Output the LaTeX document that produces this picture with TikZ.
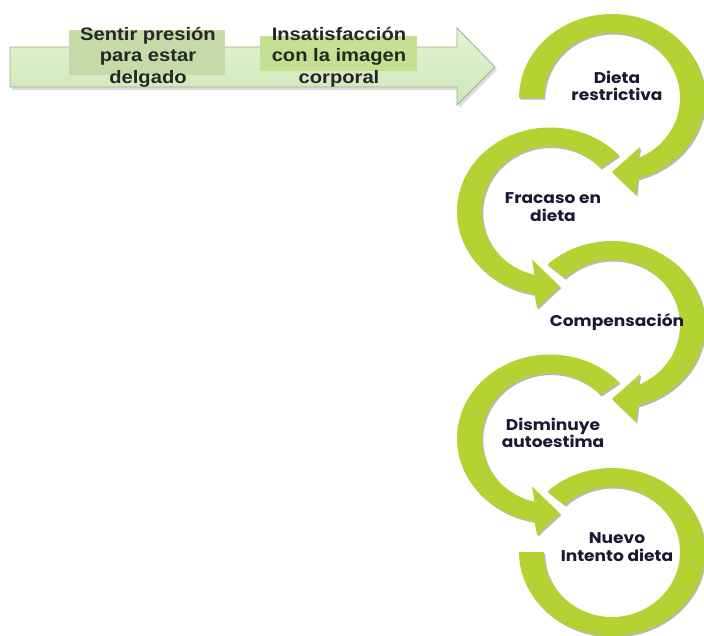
\documentclass[tikz,border=0pt]{standalone}
\usepackage{fontspec}
\newfontfamily\arialf{Liberation Sans}
\newfontfamily\gothicf{Poppins}
\definecolor{ringc}{RGB}{180,211,50}
\definecolor{textc}{RGB}{25,25,50}
\definecolor{toptext}{RGB}{38,38,38}
\definecolor{arrtop}{RGB}{228,243,214}
\definecolor{arrmid}{RGB}{236,247,226}
\definecolor{arrbot}{RGB}{206,230,182}
\definecolor{arrline}{RGB}{150,178,132}
\definecolor{boxa}{RGB}{199,218,170}
\definecolor{boxb}{RGB}{198,224,146}
\tikzset{
  ringfill/.style={fill=ringc},
  ringshadow/.style={fill=black, opacity=0.28},
  ringtext/.style={font=\gothicf\bfseries\fontsize{15.5}{17.5}\selectfont, text=textc,
    align=center, inner sep=0pt, xscale=1.1, transform shape},
  toplabel/.style={font=\arialf\bfseries\fontsize{18}{21.5}\selectfont, text=toptext,
    align=center, inner sep=0pt, xscale=1.12, transform shape}
}
% right-hand ring with arrow head at the bottom (clockwise)
\newcommand\RingRight[3]{%
  \fill[#1] ([shift={(#3:93pt and 84pt)}]#2)
    arc[start angle=#3, end angle=-73.8, x radius=93pt, y radius=84pt]
    -- ([shift={(24,-97)}]#2) -- ([shift={(0,-74)}]#2) -- ([shift={(28,-49)}]#2)
    -- ([shift={(-67.5:68pt and 65pt)}]#2)
    arc[start angle=-67.5, end angle=#3, x radius=68pt, y radius=65pt] -- cycle;}
% left-hand ring with arrow head at the bottom (counter-clockwise)
\newcommand\RingLeft[3]{%
  \fill[#1] ([shift={(#3:93pt and 84pt)}]#2)
    arc[start angle=#3, end angle=260.4, x radius=93pt, y radius=84pt]
    -- ([shift={(-13,-96.5)}]#2) -- ([shift={(10,-75)}]#2) -- ([shift={(-18,-48)}]#2)
    -- ([shift={(256.8:68pt and 65pt)}]#2)
    arc[start angle=256.8, end angle=#3, x radius=68pt, y radius=65pt] -- cycle;}
% last ring without arrow head
\newcommand\RingLast[3]{%
  \fill[#1] ([shift={(#3:93pt and 84pt)}]#2)
    arc[start angle=#3, end angle=-180, x radius=93pt, y radius=84pt]
    -- ([shift={(180:68pt and 65pt)}]#2)
    arc[start angle=-180, end angle=#3, x radius=68pt, y radius=65pt] -- cycle;}
\newcommand\AllRings[1]{%
  \RingRight{#1}{c1}{180}
  \RingLeft{#1}{c2}{42}
  \RingRight{#1}{c3}{134}
  \RingLeft{#1}{c4}{42}
  \RingLast{#1}{c5}{134}}
\begin{document}
\begin{tikzpicture}[x=1pt,y=1pt]
\useasboundingbox (0,0) rectangle (704,-636);
\fill[white] (0,0) rectangle (704,-636);
% ---- top arrow ----
\fill[black,opacity=0.13] (12,-50) -- (459,-50) -- (459,-31) -- (497,-70) -- (459,-108) -- (459,-90) -- (12,-90) -- cycle;
\shade[draw=arrline, line width=0.8pt, top color=arrtop, middle color=arrmid, bottom color=arrbot]
  (10,-47) -- (457,-47) -- (457,-28) -- (495,-67) -- (457,-105) -- (457,-87) -- (10,-87) -- cycle;
\fill[boxa] (69,-30) rectangle (225,-75);
\fill[boxb] (260,-36) rectangle (417,-71);
\node[toplabel] (t1) at (148,-57) {Sentir presión\\para estar\\delgado};
\node[toplabel] (t2) at (339,-57) {Insatisfacción\\con la imagen\\corporal};
% ---- ring centres ----
\coordinate (c1) at (612,-98);
\coordinate (c2) at (550,-211.5);
\coordinate (c3) at (612,-325);
\coordinate (c4) at (550,-438.5);
\coordinate (c5) at (612,-552);
\begin{scope}[transform canvas={shift={(1.3pt,-1.6pt)}}]
  \AllRings{ringshadow}
\end{scope}
\AllRings{ringfill}
% ---- ring labels ----
\node[ringtext] (r1) at (617,-86) {Dieta\\restrictiva};
\node[ringtext] (r2) at (553,-207) {Fracaso en\\dieta};
\node[ringtext] (r3) at (617,-322) {Compensación};
\node[ringtext] (r4) at (553,-433) {Disminuye\\autoestima};
\node[ringtext] (r5) at (617,-547) {Nuevo\\Intento dieta};
\end{tikzpicture}
\end{document}
